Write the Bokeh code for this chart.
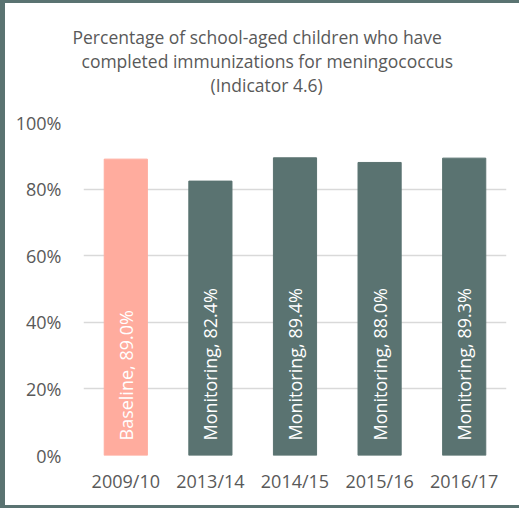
from bokeh.plotting import figure
from bokeh.models import ColumnDataSource, NumeralTickFormatter, FixedTicker, Title
from bokeh.core.properties import value
from bokeh.embed import file_html
from bokeh.resources import INLINE

years = ["2009/10", "2013/14", "2014/15", "2015/16", "2016/17"]
phases = ["Baseline", "Monitoring", "Monitoring", "Monitoring", "Monitoring"]
rates = [0.890, 0.824, 0.894, 0.880, 0.893]
y_ticks = [0, 0.2, 0.4, 0.6, 0.8, 1.0]
title_lines = ["Percentage of school-aged children who have",
               "completed immunizations for meningococcus",
               "(Indicator 4.6)"]
title_offsets = [-11, -2, 127]

PINK = "#FFAC9E"
TEAL = "#5A7371"
GREY = "#595959"
FONT = "Open Sans"

colors = [PINK if ph == "Baseline" else TEAL for ph in phases]
labels = [f"{ph}, {r*100:.1f}%" for ph, r in zip(phases, rates)]
src = ColumnDataSource(dict(x=years, top=rates, color=colors, label=labels,
                            base=[0] * len(years)))

p = figure(x_range=years, y_range=(0, 1.0), width=519, height=508,
           output_backend="svg", toolbar_location=None,
           min_border_left=83, min_border_right=13, min_border_top=122,
           min_border_bottom=53)
p.border_fill_color = None
p.background_fill_color = None
p.styles = {"box-shadow": f"inset 5px 0 0 0 {TEAL}, inset 0 3px 0 0 {TEAL}, inset 0 -3px 0 0 {TEAL}"}

# spacer between the title block and the plot frame
p.add_layout(Title(text=" ", text_font=FONT, text_font_size="18.5px", standoff=0), "above")
# title lines: later additions sit further from the frame
for line, off in reversed(list(zip(title_lines, title_offsets))):
    t = Title(text=line, align="left", text_font=FONT, text_font_size="17.5px",
              text_font_style="normal", text_color=GREY, offset=off, standoff=-2)
    p.add_layout(t, "above")

p.vbar(x="x", top="top", width=0.51, color="color", source=src)
p.text(x="x", y="base", text="label", source=src, angle=1.5708,
       text_align="left", text_baseline="middle", y_offset=-15,
       text_color="white", text_font=value(FONT), text_font_size="18px")

p.outline_line_color = None
p.xgrid.grid_line_color = None
p.ygrid.grid_line_color = "#D9D9D9"
p.ygrid.grid_line_width = 1.5
p.yaxis.ticker = FixedTicker(ticks=y_ticks)
p.yaxis.formatter = NumeralTickFormatter(format="0%")
for ax in (p.xaxis[0], p.yaxis[0]):
    ax.axis_line_color = None
    ax.major_tick_line_color = None
    ax.minor_tick_line_color = None
    ax.major_label_text_font = FONT
    ax.major_label_text_font_size = "18px"
    ax.major_label_text_color = GREY
p.yaxis.major_label_standoff = 16
p.xaxis.major_label_standoff = 7
p.x_range.range_padding = 0

open("out.html", "w").write(file_html(p, INLINE))
